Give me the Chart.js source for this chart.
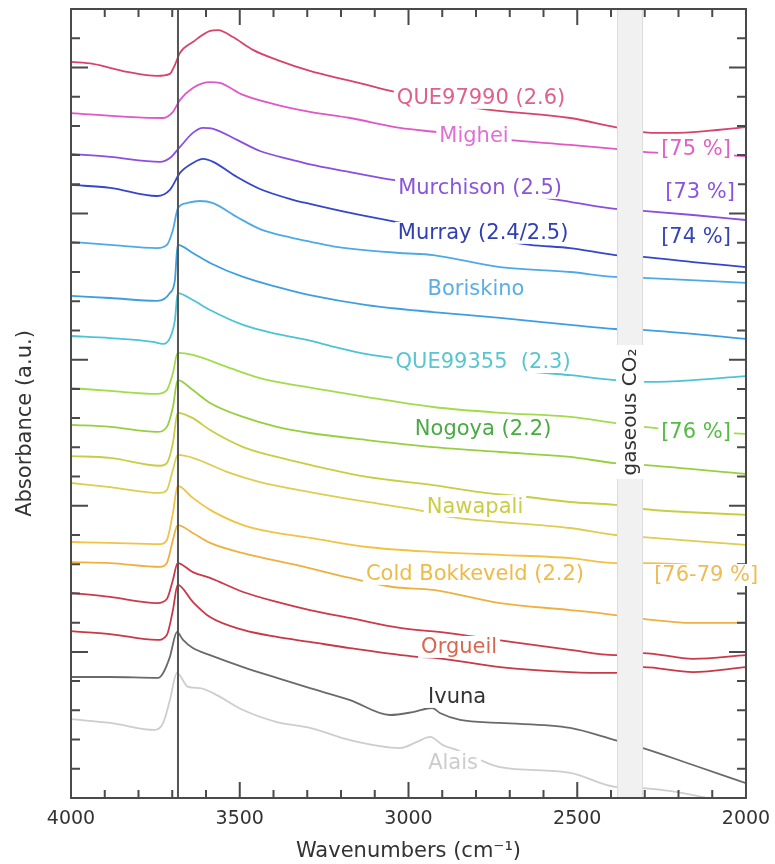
<!DOCTYPE html>
<html>
<head>
<meta charset="utf-8">
<script src="https://cdn.jsdelivr.net/npm/chart.js@4.4.1/dist/chart.umd.min.js"></script>
<style>
  html, body { margin: 0; padding: 0; background: #ffffff; }
  canvas { display: block; }
</style>
</head>
<body>
<canvas id="spectra" width="775" height="864"></canvas>
<script>
// Stacked IR absorbance spectra, pairs of [wavenumber (cm-1), offset absorbance (a.u.)]
const QUE97990 = [[4000,25.19],[3935,25.12],[3834,24.85],[3745,24.71],[3707,24.78],[3692,25.09],[3677,25.50],[3639,25.87],[3588,26.25],[3564,26.28],[3520,26.04],[3461,25.60],[3390,25.26],[3292,24.88],[3224,24.68],[3123,24.40],[3076,24.26],[2797,23.61],[2521,23.27],[2388,22.96],[2305,22.79],[2255,22.76],[2157,22.79],[2000,22.96]];
const MIGHEI = [[4000,23.44],[3834,23.31],[3727,23.27],[3698,23.48],[3677,23.89],[3639,24.30],[3588,24.50],[3559,24.47],[3490,24.06],[3390,23.72],[3292,23.48],[3173,23.27],[3025,22.93],[2916,22.79],[2708,22.52],[2521,22.35],[2388,22.21],[2305,22.11],[2000,21.97]];
const MURCHISON = [[4000,22.04],[3884,21.94],[3736,21.77],[3707,21.90],[3677,22.28],[3639,22.76],[3609,22.93],[3579,22.90],[3508,22.52],[3440,22.14],[3342,21.83],[3292,21.68],[3173,21.42],[3046,21.15],[2590,20.53],[2521,20.40],[2388,20.16],[2305,20.09],[2157,19.95],[2000,19.78]];
const MURRAY = [[4000,20.98],[3884,20.88],[3745,20.60],[3707,20.81],[3677,21.39],[3639,21.73],[3609,21.87],[3579,21.77],[3508,21.25],[3440,20.84],[3342,20.47],[3292,20.33],[3173,20.02],[3034,19.71],[2640,18.93],[2521,18.82],[2388,18.58],[2305,18.52],[2157,18.34],[2000,18.17]];
const BORISKINO_1 = [[4000,19.03],[3884,18.93],[3745,18.82],[3716,18.93],[3698,19.44],[3683,20.19],[3656,20.36],[3618,20.43],[3579,20.36],[3508,19.88],[3440,19.47],[3342,19.16],[3292,19.04],[3224,18.88],[3025,18.65],[2927,18.58],[2729,18.17],[2521,18.00],[2388,17.83],[2305,17.80],[2000,17.63]];
const BORISKINO_2 = [[4000,17.18],[3884,17.11],[3745,17.01],[3707,17.28],[3692,17.73],[3684,18.93],[3639,18.65],[3588,18.31],[3490,17.83],[3390,17.49],[3292,17.21],[3123,16.87],[2927,16.63],[2729,16.43],[2521,16.19],[2388,16.05],[2305,16.02],[2000,15.71]];
const QUE99355 = [[4000,15.81],[3884,15.74],[3757,15.61],[3727,15.54],[3707,15.74],[3692,16.36],[3684,17.28],[3639,17.04],[3588,16.70],[3490,16.19],[3390,15.88],[3292,15.65],[3224,15.45],[3123,15.19],[3046,15.06],[2590,14.54],[2521,14.47],[2388,14.30],[2284,14.24],[2157,14.30],[2000,14.44]];
const NOGOYA_1 = [[4000,14.03],[3884,13.93],[3745,13.83],[3716,13.96],[3698,14.54],[3684,15.23],[3639,15.16],[3538,14.75],[3440,14.37],[3321,14.10],[3123,13.72],[2927,13.38],[2729,13.18],[2521,13.04],[2388,12.83],[2305,12.70],[2000,12.46]];
const NOGOYA_2 = [[4000,12.77],[3884,12.70],[3745,12.53],[3716,12.70],[3698,13.38],[3684,14.30],[3639,13.96],[3588,13.52],[3490,13.04],[3390,12.70],[3292,12.49],[3123,12.25],[2927,12.01],[2729,11.84],[2521,11.67],[2388,11.46],[2305,11.40],[2000,11.09]];
const NAWAPALI_1 = [[4000,11.70],[3884,11.64],[3736,11.37],[3716,11.46],[3698,12.15],[3684,13.18],[3639,13.00],[3588,12.59],[3490,12.01],[3390,11.67],[3292,11.40],[3123,10.99],[2927,10.71],[2788,10.47],[2649,10.30],[2521,10.13],[2388,10.03],[2305,9.89],[2000,9.69]];
const NAWAPALI_2 = [[4000,10.78],[3884,10.64],[3736,10.44],[3716,10.54],[3698,11.23],[3684,11.74],[3639,11.64],[3538,11.16],[3440,10.81],[3292,10.47],[3123,10.13],[2975,9.86],[2877,9.62],[2521,9.24],[2388,9.00],[2305,8.93],[2000,8.66]];
const COLD_BOKKEVELD_1 = [[4000,8.76],[3884,8.73],[3736,8.69],[3716,8.83],[3698,9.75],[3684,10.68],[3639,10.27],[3588,9.86],[3490,9.34],[3390,9.07],[3292,8.90],[3123,8.59],[2927,8.42],[2729,8.32],[2521,8.21],[2388,8.04],[2290,8.04],[2000,7.87]];
const COLD_BOKKEVELD_2 = [[4000,8.07],[3884,8.04],[3736,7.91],[3716,8.04],[3698,8.83],[3684,9.34],[3639,9.07],[3588,8.73],[3490,8.38],[3321,7.94],[3173,7.53],[3046,7.22],[2927,7.12],[2729,6.67],[2521,6.43],[2388,6.26],[2305,6.13],[2157,5.99],[2000,5.99]];
const ORGUEIL_1 = [[4000,7.02],[3884,6.88],[3745,6.67],[3716,6.81],[3698,7.46],[3684,8.04],[3639,7.73],[3588,7.53],[3490,7.05],[3390,6.71],[3292,6.43],[3173,6.16],[3025,5.82],[2886,5.65],[2738,5.41],[2521,5.07],[2388,4.89],[2305,4.96],[2157,4.76],[2000,4.89]];
const ORGUEIL_2 = [[4000,5.71],[3884,5.61],[3745,5.41],[3716,5.58],[3698,6.43],[3684,7.29],[3639,6.71],[3588,6.19],[3490,5.75],[3390,5.51],[3292,5.34],[3173,5.13],[2975,4.83],[2916,4.79],[2729,4.48],[2521,4.31],[2388,4.28],[2305,4.48],[2157,4.31],[2000,4.48]];
const IVUNA = [[4000,4.14],[3884,4.14],[3742,4.11],[3727,4.28],[3707,4.83],[3686,5.68],[3668,5.41],[3639,5.13],[3588,4.89],[3490,4.48],[3390,4.11],[3292,3.76],[3173,3.35],[3055,2.84],[2987,2.94],[2930,3.08],[2907,2.91],[2847,2.67],[2729,2.57],[2521,2.40],[2388,1.98],[2305,1.71],[2157,1.13],[2000,0.51]];
const ALAIS = [[4000,2.70],[3884,2.57],[3751,2.33],[3727,2.57],[3707,3.35],[3686,4.28],[3653,3.80],[3618,3.76],[3579,3.59],[3490,3.01],[3390,2.60],[3292,2.40],[3173,1.98],[3025,1.71],[2975,1.92],[2936,2.09],[2898,1.81],[2856,1.64],[2788,1.30],[2729,1.06],[2521,0.86],[2388,0.38],[2305,0.34],[2116,0.00],[2000,-0.41]];

// Axis ranges and tick labels
const xRange = [2000, 4000];
const xMajorTicks = [4000, 3500, 3000, 2500, 2000];
const yRange = [0, 27];
const hydroxylBand = 3683;          // vertical marker line (cm-1)
const co2Band = [2382, 2305];       // gaseous CO2 window (cm-1)

// Series: data, line colour
const series = [
  { name: 'QUE97990', data: QUE97990, color: '#d8436b' },
  { name: 'Mighei', data: MIGHEI, color: '#e057c8' },
  { name: 'Murchison', data: MURCHISON, color: '#8a4ee0' },
  { name: 'Murray', data: MURRAY, color: '#3646cc' },
  { name: 'Boriskino', data: BORISKINO_1, color: '#4eaae6' },
  { name: 'Boriskino', data: BORISKINO_2, color: '#3e9fe0' },
  { name: 'QUE99355', data: QUE99355, color: '#4cc4d6' },
  { name: 'Nogoya', data: NOGOYA_1, color: '#a2dc4a' },
  { name: 'Nogoya', data: NOGOYA_2, color: '#96d040' },
  { name: 'Nawapali', data: NAWAPALI_1, color: '#c9cd42' },
  { name: 'Nawapali', data: NAWAPALI_2, color: '#ddcd52' },
  { name: 'Cold Bokkeveld', data: COLD_BOKKEVELD_1, color: '#f2c244' },
  { name: 'Cold Bokkeveld', data: COLD_BOKKEVELD_2, color: '#eeb040' },
  { name: 'Orgueil', data: ORGUEIL_1, color: '#cc3a4a' },
  { name: 'Orgueil', data: ORGUEIL_2, color: '#c93846' },
  { name: 'Ivuna', data: IVUNA, color: '#6a6a6a' },
  { name: 'Alais', data: ALAIS, color: '#cdcdcd' }
];

// In-plot labels: text, anchor (wavenumber, absorbance), colour
const sampleLabels = [
  { text: 'QUE97990 (2.6)', at: [2785, 23.96], color: '#e0608c' },
  { text: 'Mighei', at: [2806, 22.66], color: '#e070d4' },
  { text: 'Murchison (2.5)', at: [2788, 20.88], color: '#8a55dd' },
  { text: 'Murray (2.4/2.5)', at: [2779, 19.34], color: '#3040b4' },
  { text: 'Boriskino', at: [2800, 17.45], color: '#5aaee6' },
  { text: 'QUE99355  (2.3)', at: [2779, 14.92], color: '#58c6ce' },
  { text: 'Nogoya (2.2)', at: [2779, 12.63], color: '#4aaa44' },
  { text: 'Nawapali', at: [2803, 9.99], color: '#cccc44' },
  { text: 'Cold Bokkeveld (2.2)', at: [2803, 7.67], color: '#eebb48' },
  { text: 'Orgueil', at: [2850, 5.17], color: '#d9674e' },
  { text: 'Ivuna', at: [2856, 3.46], color: '#333333' },
  { text: 'Alais', at: [2868, 1.23], color: '#cccccc' },
  { text: '[75 %]', at: [2148, 22.21], color: '#e060c4' },
  { text: '[73 %]', at: [2136, 20.74], color: '#8a55dd' },
  { text: '[74 %]', at: [2148, 19.20], color: '#3444b8' },
  { text: '[76 %]', at: [2148, 12.53], color: '#55bb44' },
  { text: '[76-79 %]', at: [2118, 7.63], color: '#eebb55' }
];
const co2Label = { text: 'gaseous CO₂', at: 13.21 };

const FONT = 'DejaVu Sans';
const AXIS_COLOR = '#4a4a4a';

// Band, marker line, frame with inward ticks, and text labels
const decorations = {
  id: 'decorations',
  afterDatasetsDraw(chart) {
    const { ctx, chartArea: a, scales: { x, y } } = chart;
    ctx.save();

    // gaseous CO2 window
    const b1 = x.getPixelForValue(co2Band[0]);
    const b2 = x.getPixelForValue(co2Band[1]);
    ctx.fillStyle = '#f1f1f1';
    ctx.fillRect(b1, a.top, b2 - b1, a.bottom - a.top);
    ctx.strokeStyle = '#dcdcdc';
    ctx.lineWidth = 1;
    ctx.beginPath();
    ctx.moveTo(b1 + 0.5, a.top); ctx.lineTo(b1 + 0.5, a.bottom);
    ctx.moveTo(b2 - 0.5, a.top); ctx.lineTo(b2 - 0.5, a.bottom);
    ctx.stroke();
    const cy = y.getPixelForValue(co2Label.at);
    ctx.fillStyle = '#ffffff';
    ctx.fillRect(b1 - 1, cy - 67, b2 - b1 + 2, 134);
    ctx.translate((b1 + b2) / 2, cy);
    ctx.rotate(-Math.PI / 2);
    ctx.font = '20px "' + FONT + '"';
    ctx.fillStyle = '#333333';
    ctx.textAlign = 'center';
    ctx.textBaseline = 'middle';
    ctx.fillText(co2Label.text, 0, 1);
    ctx.setTransform(1, 0, 0, 1, 0, 0);

    // marker line
    const hx = x.getPixelForValue(hydroxylBand);
    ctx.strokeStyle = '#555555';
    ctx.lineWidth = 2;
    ctx.beginPath();
    ctx.moveTo(hx, a.top); ctx.lineTo(hx, a.bottom);
    ctx.stroke();

    // frame
    ctx.strokeStyle = AXIS_COLOR;
    ctx.lineWidth = 2;
    ctx.strokeRect(a.left, a.top, a.right - a.left, a.bottom - a.top);

    // inward ticks
    ctx.beginPath();
    x.ticks.forEach(t => {
      const px = x.getPixelForValue(t.value);
      const len = t.value % 500 === 0 ? 16 : 8;
      ctx.moveTo(px, a.bottom); ctx.lineTo(px, a.bottom - len);
      ctx.moveTo(px, a.top); ctx.lineTo(px, a.top + len);
    });
    y.ticks.forEach(t => {
      const py = y.getPixelForValue(t.value);
      const len = t.value % 5 === 0 ? 17 : 9;
      ctx.moveTo(a.left, py); ctx.lineTo(a.left + len, py);
      ctx.moveTo(a.right, py); ctx.lineTo(a.right - len, py);
    });
    ctx.stroke();
    ctx.restore();
  },
  afterDraw(chart) {
    const { ctx, chartArea: a, scales: { x, y } } = chart;
    ctx.save();
    ctx.font = '21px "' + FONT + '"';
    ctx.textAlign = 'center';
    ctx.textBaseline = 'middle';
    sampleLabels.forEach(l => {
      const px = x.getPixelForValue(l.at[0]);
      const py = y.getPixelForValue(l.at[1]);
      const w = ctx.measureText(l.text).width;
      ctx.fillStyle = '#ffffff';
      ctx.fillRect(px - w / 2 - 3, py - 11, w + 6, 22);
      ctx.fillStyle = l.color;
      ctx.fillText(l.text, px, py + 1);
    });

    // y-axis title
    ctx.translate(26, (a.top + a.bottom) / 2 + 20);
    ctx.rotate(-Math.PI / 2);
    ctx.fillStyle = '#333333';
    ctx.fillText('Absorbance (a.u.)', 0, 0);
    ctx.restore();
  }
};

new Chart(document.getElementById('spectra'), {
  type: 'line',
  data: {
    datasets: series.map(s => ({
      label: s.name,
      data: s.data.map(p => ({ x: p[0], y: p[1] })),
      borderColor: s.color,
      borderWidth: 1.8,
      pointRadius: 0,
      fill: false,
      cubicInterpolationMode: 'monotone'
    }))
  },
  options: {
    responsive: false,
    animation: false,
    devicePixelRatio: 1,
    layout: { padding: { top: 9, right: 29, left: 0, bottom: 0 } },
    plugins: { legend: { display: false }, tooltip: { enabled: false } },
    scales: {
      x: {
        type: 'linear',
        reverse: true,
        min: xRange[0],
        max: xRange[1],
        grid: { display: false, drawTicks: false },
        border: { display: false },
        ticks: {
          stepSize: 100,
          autoSkip: false,
          maxRotation: 0,
          padding: 10,
          color: '#333333',
          font: { family: FONT, size: 19 },
          callback: v => (xMajorTicks.includes(v) ? String(v) : '')
        },
        title: {
          display: true,
          text: 'Wavenumbers (cm⁻¹)',
          color: '#333333',
          font: { family: FONT, size: 21 },
          padding: { top: 0, bottom: 0 }
        },
        afterFit: s => { s.height = 66; s.paddingLeft = 0; s.paddingRight = 0; }
      },
      y: {
        type: 'linear',
        min: yRange[0],
        max: yRange[1],
        grid: { display: false, drawTicks: false },
        border: { display: false },
        ticks: { stepSize: 1, display: false },
        afterFit: s => { s.width = 71; s.paddingTop = 0; s.paddingBottom = 0; }
      }
    }
  },
  plugins: [decorations]
});
</script>
</body>
</html>
